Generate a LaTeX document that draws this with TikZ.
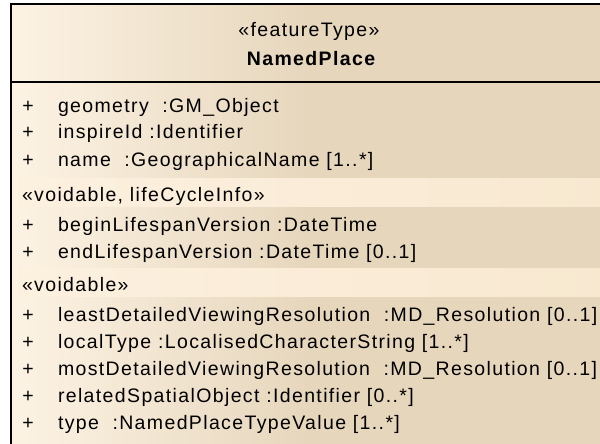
\documentclass[tikz,border=0pt]{standalone}
\usepackage{fontspec}
\setmainfont{Liberation Sans}[LetterSpace=7]
\definecolor{cream}{HTML}{FDF3E4}
\definecolor{tan}{HTML}{E6D6BC}
\definecolor{bandL}{HTML}{FCF0DF}
\definecolor{bandR}{HTML}{F8E8D0}
\tikzset{
  classtext/.style={font=\fontsize{19.5}{22}\selectfont, inner sep=0pt, outer sep=0pt},
  attr/.style={classtext, anchor=base west},
  vis/.style={classtext, anchor=base},
  stereo/.style={classtext, anchor=base west},
  title/.style={classtext, anchor=base},
  frame/.style={draw=black, line width=2pt},
}
\begin{document}
\begin{tikzpicture}[x=1pt, y=-1pt]
\useasboundingbox (0,0) rectangle (600,444);
\begin{scope}
  \clip (0,0) rectangle (600,444);
  % class body with its horizontal gradient
  \fill[tan] (11,4) rectangle (612,444.5);
  \shade[left color=cream, right color=tan] (11,4) rectangle (310,444.5);
  % stereotype group bands
  \shade[left color=bandL, right color=bandR] (18,178) rectangle (612,206);
  \shade[left color=bandL, right color=bandR] (18,268) rectangle (612,296);
  % outline and header separator
  \draw[frame] (11,444.5) -- (11,4) -- (612,4) -- (612,444.5) -- cycle;
  \draw[frame] (11,82) -- (612,82);
\end{scope}

% header
\node[title] (stype) at (309,37) {«featureType»};
\node[title] (cname) at (311,66) {\bfseries NamedPlace};

% plain attributes
\node[vis]  (v1) at (28,112) {+};
\node[attr] (a1) at (58,112) {geometry\ \ :GM\_Object};
\node[vis]  (v2) at (28,139) {+};
\node[attr] (a2) at (58,139) {inspireId :Identifier};
\node[vis]  (v3) at (28,166) {+};
\node[attr] (a3) at (58,166) {name\ \ :GeographicalName [1..*]};

% «voidable, lifeCycleInfo» group
\node[stereo] (g1) at (22,201) {«voidable, lifeCycleInfo»};
\node[vis]  (v4) at (28,231) {+};
\node[attr] (a4) at (58,231) {beginLifespanVersion :DateTime};
\node[vis]  (v5) at (28,258) {+};
\node[attr] (a5) at (58,258) {endLifespanVersion :DateTime [0..1]};

% «voidable» group
\node[stereo] (g2) at (22,291) {«voidable»};
\node[vis]  (v6) at (28,321) {+};
\node[attr] (a6) at (58,321) {leastDetailedViewingResolution\ \ :MD\_Resolution [0..1]};
\node[vis]  (v7) at (28,348) {+};
\node[attr] (a7) at (58,348) {localType :LocalisedCharacterString [1..*]};
\node[vis]  (v8) at (28,375) {+};
\node[attr] (a8) at (58,375) {mostDetailedViewingResolution\ \ :MD\_Resolution [0..1]};
\node[vis]  (v9) at (28,402) {+};
\node[attr] (a9) at (58,402) {relatedSpatialObject :Identifier [0..*]};
\node[vis]  (v10) at (28,429) {+};
\node[attr] (a10) at (58,429) {type\ \ :NamedPlaceTypeValue [1..*]};
\end{tikzpicture}
\end{document}
